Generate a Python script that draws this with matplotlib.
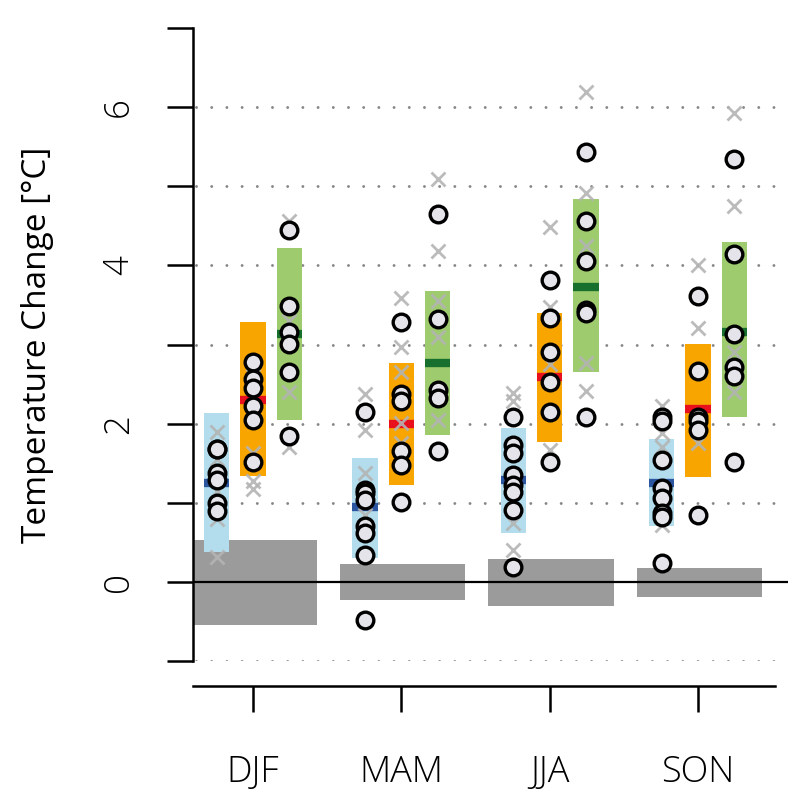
import matplotlib
matplotlib.use("Agg")
import matplotlib.pyplot as plt
import numpy as np

plt.rcParams['font.family'] = ['Open Sans', 'DejaVu Sans']
plt.rcParams['font.weight'] = 'light'

seasons = ["DJF", "MAM", "JJA", "SON"]

# gray bars (natural variability range)
gray_low = [-0.55, -0.23, -0.30, -0.19]
gray_high = [0.53, 0.22, 0.29, 0.18]

# per scenario: box low, box high, median
blue_low = [0.38, 0.30, 0.62, 0.70]
blue_high = [2.14, 1.57, 1.95, 1.80]
blue_med = [1.25, 0.94, 1.29, 1.25]
orange_low = [1.34, 1.23, 1.77, 1.33]
orange_high = [3.29, 2.76, 3.40, 3.01]
orange_med = [2.30, 1.99, 2.59, 2.18]
green_low = [2.04, 1.86, 2.65, 2.08]
green_high = [4.22, 3.67, 4.84, 4.29]
green_med = [3.13, 2.77, 3.73, 3.16]

# model circles
blue_circles = [
    [1.68, 1.68, 1.38, 1.29, 1.00, 0.89],
    [2.15, 1.16, 1.12, 1.04, 0.70, 0.62, 0.34, -0.48],
    [2.08, 1.73, 1.63, 1.35, 1.23, 1.13, 0.91, 0.19],
    [2.09, 2.03, 1.54, 1.19, 1.06, 0.87, 0.82, 0.24],
]
orange_circles = [
    [2.78, 2.57, 2.45, 2.22, 2.04, 1.51],
    [3.28, 2.37, 2.28, 1.65, 1.48, 1.01],
    [3.82, 3.34, 2.90, 2.52, 2.15, 1.51],
    [3.61, 2.66, 2.09, 2.03, 1.92, 0.85],
]
green_circles = [
    [4.45, 3.49, 3.16, 3.01, 2.65, 1.84],
    [4.65, 3.32, 2.43, 2.33, 1.65],
    [5.43, 4.56, 4.05, 3.44, 3.40, 2.09],
    [5.34, 4.15, 3.13, 2.71, 2.60, 1.52],
]
# gray crosses
blue_crosses = [
    [1.89, 1.55, 1.15, 0.80, 0.32],
    [2.37, 1.92, 1.38, 0.85],
    [2.39, 2.28, 0.75, 0.40],
    [2.22, 1.88, 1.70, 0.72],
]
orange_crosses = [
    [2.60, 2.35, 1.63, 1.27, 1.17],
    [3.59, 2.97, 2.65, 2.01, 1.75],
    [4.49, 3.47, 2.75, 1.67],
    [4.01, 3.21, 1.76],
]
green_crosses = [
    [4.56, 3.30, 2.40, 1.71],
    [5.09, 4.18, 3.55, 3.10, 2.05],
    [6.19, 4.92, 4.25, 2.77, 2.41],
    [5.92, 4.75, 2.90, 2.40],
]

W, H = 788, 790
fig = plt.figure(figsize=(W / 100, H / 100), dpi=100)
ax = fig.add_axes([193 / W, (H - 661) / H, (W - 193) / W, (661 - 28) / H])

unit = 148.3
x0 = 1 - 60 / unit
x1 = 1 + (W - 253) / unit
ax.set_xlim(x0, x1)
ax.set_ylim(-1, 7)

pos = np.arange(1, len(seasons) + 1)

# dotted grid
grid_end = (1 + (775 - 253) / unit - x0) / (x1 - x0)
for yv in [-1, 1, 2, 3, 4, 5, 6]:
    ax.axhline(yv, xmin=0.005, xmax=grid_end, color='#858585', lw=2.1,
               linestyle=(0, (0.01, 5.2)), dash_capstyle='round', zorder=0)

# gray bars
ax.bar(pos + 0.01, np.array(gray_high) - np.array(gray_low), bottom=gray_low,
       width=0.845, color='#9b9b9b', zorder=1)
ax.axhline(0, color='black', lw=1.6, zorder=2)

offs = 0.245
bw = 0.17
groups = [
    (-offs, blue_low, blue_high, blue_med, blue_circles, blue_crosses, '#b3dced', '#2c56a0'),
    (0.0, orange_low, orange_high, orange_med, orange_circles, orange_crosses, '#f8a500', '#e8101c'),
    (offs, green_low, green_high, green_med, green_circles, green_crosses, '#9ecb6d', '#17702e'),
]
for off, lo, hi, med, circ, crs, fc, mc in groups:
    xs = pos + off
    ax.bar(xs, np.array(hi) - np.array(lo), bottom=lo, width=bw, color=fc, zorder=3)
    for i in range(len(seasons)):
        ax.plot([xs[i] - bw / 2, xs[i] + bw / 2], [med[i], med[i]], color=mc,
                lw=6, solid_capstyle='butt', zorder=4)
        ax.plot(np.full(len(crs[i]), xs[i]), crs[i], linestyle='none', marker='x',
                ms=9.5, mew=2.0, color='#b4b4b4', alpha=0.9, zorder=5)
        ax.plot(np.full(len(circ[i]), xs[i]), circ[i], linestyle='none', marker='o',
                ms=12, mew=2.4, mfc='#e4e4ea', mec='black', zorder=6)

# spines
for s in ['top', 'right']:
    ax.spines[s].set_visible(False)
ax.spines['left'].set_linewidth(1.8)
ax.spines['left'].set_bounds(-1, 7)
ax.spines['bottom'].set_linewidth(1.8)
ax.spines['bottom'].set_position(('outward', 18))
ax.spines['bottom'].set_bounds(x0, 1 + (775 - 253) / unit)

ax.set_yticks([0, 2, 4, 6])
ax.set_yticks([-1, 1, 3, 5, 7], minor=True)
ax.tick_params(axis='y', which='both', length=19, width=1.8, direction='out')
ax.tick_params(axis='y', which='major', labelsize=25, pad=22, labelrotation=90)
for lab in ax.get_yticklabels():
    lab.set_va('center')
ax.set_xticks(pos)
ax.set_xticklabels(seasons)
ax.tick_params(axis='x', length=19, width=1.8, labelsize=26, pad=30)

ax.set_ylabel('Temperature Change [°C]', fontsize=24, ha='center', va='center')
ax.yaxis.set_label_coords(-0.262, 0.5)

fig.savefig('out.png', dpi=100)
